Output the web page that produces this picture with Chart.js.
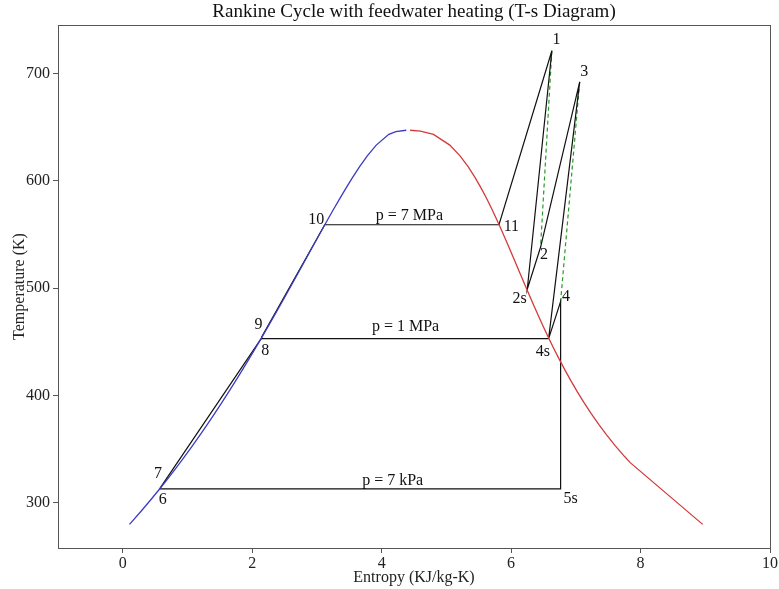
<!DOCTYPE html>
<html>
<head>
<meta charset="utf-8">
<script src="https://cdn.jsdelivr.net/npm/chart.js@4"></script>
<style>
html,body{margin:0;padding:0;background:#fff;}
#wrap{width:779px;height:589px;}
</style>
</head>
<body>
<div id="wrap"><canvas id="c" width="779" height="589"></canvas></div>
<script>
// Saturated liquid line (blue): entropy (kJ/kg-K), temperature (K)
const satLiqS = [0.105, 0.2965, 0.4368, 0.5724, 0.7038, 0.8313, 0.9551, 1.0756, 1.1929, 1.3072, 1.4188, 1.5279, 1.6346, 1.7392, 1.8418, 1.9426, 2.0417, 2.1392, 2.2355, 2.3305, 2.4245, 2.5177, 2.6101, 2.7020, 2.7935, 2.8849, 2.9765, 3.0685, 3.1612, 3.2552, 3.3510, 3.4494, 3.5518, 3.6601, 3.7784, 3.9167, 4.1112, 4.22, 4.38];
const satLiqT = [280, 293.15, 303.15, 313.15, 323.15, 333.15, 343.15, 353.15, 363.15, 373.15, 383.15, 393.15, 403.15, 413.15, 423.15, 433.15, 443.15, 453.15, 463.15, 473.15, 483.15, 493.15, 503.15, 513.15, 523.15, 533.15, 543.15, 553.15, 563.15, 573.15, 583.15, 593.15, 603.15, 613.15, 623.15, 633.15, 643.15, 645.8, 647];
// Saturated vapour line (red)
const satVapS = [4.44, 4.6, 4.8012, 5.0536, 5.2110, 5.3356, 5.4422, 5.5372, 5.6244, 5.7059, 5.7834, 5.8579, 5.9304, 6.0016, 6.0721, 6.1423, 6.2128, 6.2840, 6.3563, 6.4302, 6.5059, 6.5840, 6.6650, 6.7491, 6.8371, 6.9293, 7.0264, 7.1291, 7.2381, 7.3541, 7.4781, 7.6111, 7.7540, 7.84, 8.96];
const satVapT = [647, 646.2, 643.15, 633.15, 623.15, 613.15, 603.15, 593.15, 583.15, 573.15, 563.15, 553.15, 543.15, 533.15, 523.15, 513.15, 503.15, 493.15, 483.15, 473.15, 463.15, 453.15, 443.15, 433.15, 423.15, 413.15, 403.15, 393.15, 383.15, 373.15, 363.15, 353.15, 343.15, 337.5, 280];
// Cycle states
const stateNames = ['1', '2s', '2', '3', '4s', '4', '5s', '6', '7', '8', '9', '10', '11'];
const stateS     = [6.63, 6.25, 6.455, 7.06, 6.58, 6.765, 6.765, 0.572, 0.585, 2.139, 2.147, 3.121, 5.813];
const stateT     = [721, 499, 538, 692, 453, 487.5, 313, 313, 314.5, 453, 454.5, 559, 559];
// Process paths (solid black) and actual expansions (green dashed)
const solidPaths  = [['6', '7', '8', '9', '10', '11', '1', '2s', '2', '3', '4s', '4', '5s', '6'], ['8', '4s']];
const dashedPaths = [['1', '2'], ['3', '4']];
// Annotations
const noteText = ['1', '3', '11', '2', '2s', '4', '4s', '5s', '10', '9', '8', '7', '6', 'p = 7 MPa', 'p = 1 MPa', 'p = 7 kPa'];
const noteS    = [6.70, 7.13, 6.005, 6.51, 6.13, 6.85, 6.49, 6.92, 2.99, 2.097, 2.2, 0.545, 0.62, 4.43, 4.37, 4.17];
const noteT    = [731, 701.5, 557.3, 531, 490.4, 492.2, 440.8, 304, 563.6, 465.5, 441.8, 326.7, 303, 567, 464.3, 321];
// Axes
const xTicks = [0, 2, 4, 6, 8, 10];
const yTicks = [300, 400, 500, 600, 700];
const xRange = [-1, 10];
const yRange = [258, 745];
const titleText = 'Rankine Cycle with feedwater heating (T-s Diagram)';

const FONT = "'Liberation Serif', 'DejaVu Serif', serif";

function pts(sArr, tArr) { return sArr.map((s, i) => ({x: s, y: tArr[i]})); }
function pathPts(path) {
  return path.map(n => { const i = stateNames.indexOf(n); return {x: stateS[i], y: stateT[i]}; });
}

const datasets = [];
datasets.push({data: pts(satLiqS, satLiqT), borderColor: '#3b3bc4', borderWidth: 1.3});
datasets.push({data: pts(satVapS, satVapT), borderColor: '#d43a3a', borderWidth: 1.3});
solidPaths.forEach(p => datasets.push({data: pathPts(p), borderColor: '#111', borderWidth: 1.2}));
dashedPaths.forEach(p => datasets.push({data: pathPts(p), borderColor: '#2a9a2a', borderWidth: 1.2, borderDash: [4, 3]}));
datasets.forEach(d => { d.showLine = true; d.pointRadius = 0; d.tension = 0; d.fill = false; });

const frameAndNotes = {
  id: 'frameAndNotes',
  afterDatasetsDraw(chart) {
    const {ctx, chartArea: a, scales: {x, y}} = chart;
    ctx.save();
    ctx.strokeStyle = '#555';
    ctx.lineWidth = 1;
    ctx.strokeRect(Math.round(a.left) + 0.5, Math.round(a.top) + 0.5, Math.round(a.right - a.left), Math.round(a.bottom - a.top));
    ctx.fillStyle = '#111';
    ctx.font = "16px " + FONT;
    ctx.textAlign = 'center';
    ctx.textBaseline = 'middle';
    noteText.forEach((t, i) => ctx.fillText(t, x.getPixelForValue(noteS[i]), y.getPixelForValue(noteT[i])));
    ctx.font = "19px " + FONT;
    ctx.fillText(titleText, (a.left + a.right) / 2, 12);
    ctx.restore();
  }
};

new Chart(document.getElementById('c'), {
  type: 'scatter',
  data: {datasets},
  options: {
    responsive: false,
    animation: false,
    devicePixelRatio: 1,
    layout: {padding: {left: 0, right: 6, top: 25, bottom: 0}},
    plugins: {
      legend: {display: false},
      tooltip: {enabled: false},
      title: {display: false}
    },
    scales: {
      x: {
        type: 'linear', min: xRange[0], max: xRange[1],
        afterBuildTicks: s => { s.ticks = xTicks.map(v => ({value: v})); },
        afterFit: s => { s.height = 41; },
        grid: {display: true, drawOnChartArea: false, drawTicks: true, tickLength: 5, color: '#555'},
        border: {display: true, color: '#555'},
        ticks: {color: '#222', font: {family: FONT, size: 16}, padding: 1, maxRotation: 0},
        title: {display: true, text: 'Entropy (KJ/kg-K)', color: '#222', font: {family: FONT, size: 16}, padding: {top: 0, bottom: 2}}
      },
      y: {
        type: 'linear', min: yRange[0], max: yRange[1],
        afterBuildTicks: s => { s.ticks = yTicks.map(v => ({value: v})); },
        afterFit: s => { s.width = 58; },
        grid: {display: true, drawOnChartArea: false, drawTicks: true, tickLength: 5, color: '#555'},
        border: {display: true, color: '#555'},
        ticks: {color: '#222', font: {family: FONT, size: 16}, padding: 3},
        title: {display: true, text: 'Temperature (K)', color: '#222', font: {family: FONT, size: 16}, padding: {top: 10, bottom: 0}}
      }
    }
  },
  plugins: [frameAndNotes]
});
</script>
</body>
</html>
